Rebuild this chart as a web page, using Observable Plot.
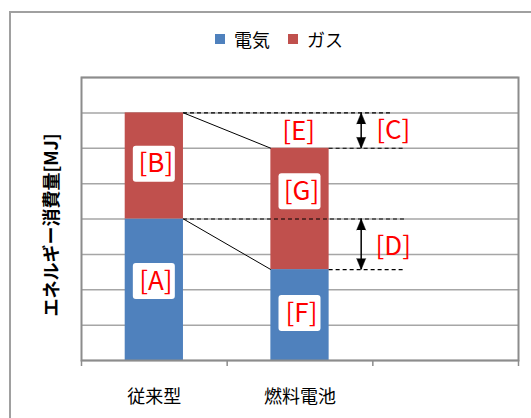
<!DOCTYPE html>
<html><head><meta charset="utf-8">
<script src="https://cdn.jsdelivr.net/npm/d3@7"></script>
<script src="https://cdn.jsdelivr.net/npm/@observablehq/plot@0.6"></script>
<style>
body{margin:0;background:#fff;font-family:"Noto Sans CJK JP",sans-serif;}
#frame{position:absolute;left:9px;top:11px;width:600px;height:500px;border:2px solid #a0a0a0;box-sizing:border-box;}
#legend{position:absolute;left:215px;top:22px;}
#chart{position:absolute;left:0;top:60px;}
#chart g[aria-label="labels"] text{letter-spacing:3px;}
</style></head><body>
<div id="frame"></div><div id="legend"></div><div id="chart"></div>
<script>
const categories = ["従来型", "燃料電池"];
const series = ["電気", "ガス"];
const electricity = [4, 2.57];
const gas = [3, 3.43];
const seriesColors = ["#4F81BD", "#C0504D"];
const yLabel = "エネルギー消費量[MJ]";
const yTicks = [0, 1, 2, 3, 4, 5, 6, 7, 8];
const labelText = ["[A]", "[B]", "[C]", "[D]", "[E]", "[F]", "[G]"];
const labelX = [0.5, 0.5, 2.13, 2.13, 1.48, 1.5, 1.5];
const labelY = [2.23, 5.55, 6.49, 3.23, 6.48, 1.33, 4.77];
const labelBoxed = [true, true, false, false, false, true, true];
const arrowX = 1.92;
const dashEnd = [2.135, 2.224];

const half = 0.2;
const total = categories.map((_, i) => electricity[i] + gas[i]);
const rows = categories.flatMap((c, i) => [
  {i, s: series[0], y1: 0, y2: electricity[i]},
  {i, s: series[1], y1: electricity[i], y2: total[i]}
]);
const labels = labelText.map((t, k) => ({t, x: labelX[k], y: labelY[k], boxed: labelBoxed[k]}));
const diag = [
  {x1: 0 + 0.5 + half, y1: total[0], x2: 1 + 0.5 - half, y2: total[1]},
  {x1: 0 + 0.5 + half, y1: electricity[0], x2: 1 + 0.5 - half, y2: electricity[1]}
];
const dashes = [
  {x1: 0.5 + half, x2: dashEnd[0], y: total[0]},
  {x1: 1.5 + half, x2: dashEnd[1], y: total[1]},
  {x1: 0.5 + half, x2: dashEnd[1], y: electricity[0]},
  {x1: 1.5 + half, x2: dashEnd[1], y: electricity[1]}
];
const shafts = [{y1: total[1], y2: total[0]}, {y1: electricity[1], y2: electricity[0]}];
const heads = [
  {y: total[0], r: 0}, {y: total[1], r: 180},
  {y: electricity[0], r: 0}, {y: electricity[1], r: 180}
];

const chart = Plot.plot({
  width: 531, height: 358,
  marginLeft: 81, marginRight: 13, marginTop: 17, marginBottom: 58,
  style: {fontFamily: '"Noto Sans CJK JP", sans-serif', background: "transparent", overflow: "visible"},
  x: {domain: [0, 3], label: null},
  y: {domain: [0, 8], axis: null, label: null},
  color: {domain: series, range: seriesColors},
  marks: [
    Plot.ruleY(yTicks, {stroke: "#a6a6a6", strokeWidth: 1.5}),
    Plot.rectY(rows, {x1: d => d.i + 0.5 - half, x2: d => d.i + 0.5 + half, y1: "y1", y2: "y2", fill: "s"}),
    Plot.frame({stroke: "#8c8c8c", strokeWidth: 2}),
    Plot.axisX({ticks: [0, 1, 2, 3], tickSize: 6, tickFormat: () => "", stroke: "#8c8c8c", strokeWidth: 1.5}),
    Plot.axisX({ticks: categories.map((_, i) => i + 0.5), tickSize: 0, tickPadding: 30,
      tickFormat: d => categories[Math.floor(d)], fontSize: 18, fill: "#000"}),
    Plot.link(diag, {x1: "x1", y1: "y1", x2: "x2", y2: "y2", stroke: "#000", strokeWidth: 1}),
    Plot.ruleY(dashes, {x1: "x1", x2: "x2", y: "y", stroke: "#000", strokeWidth: 1.2, strokeDasharray: "4,3"}),
    Plot.ruleX(shafts, {x: () => arrowX, y1: "y1", y2: "y2", stroke: "#000", strokeWidth: 1.5}),
    Plot.vector(heads, {x: () => arrowX, y: "y", rotate: "r", shape: "spike", length: 11, r: 4.5, anchor: "end", fill: "#000", stroke: "#000", strokeWidth: 0.5}),
    Plot.rect(labels.filter(d => d.boxed), {x1: "x", x2: "x", y1: "y", y2: "y",
      insetLeft: -21, insetRight: -21, insetTop: -18, insetBottom: -18, fill: "#fff", rx: 3}),
    Plot.text(labels, {x: "x", y: "y", text: "t", fill: "#ff0000", fontSize: 26, dx: 1.5, ariaLabel: "labels"}),
    Plot.text([yLabel], {text: d => d, frameAnchor: "left", textAnchor: "middle", rotate: -90, dx: -29, dy: 6, fontSize: 18, fontWeight: "bold", fill: "#000"})
  ]
});
document.getElementById("chart").appendChild(chart);

const legend = Plot.legend({
  color: {domain: series, range: seriesColors},
  swatchSize: 10,
  style: {fontSize: "18px", fontFamily: '"Noto Sans CJK JP", sans-serif', color: "#000"}
});
document.getElementById("legend").appendChild(legend);
</script>
</body></html>
